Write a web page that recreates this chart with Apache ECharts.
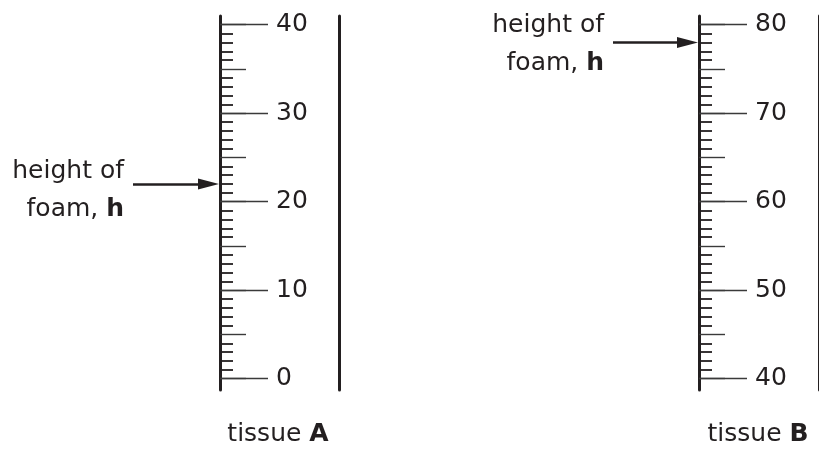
<!DOCTYPE html>
<html><head><meta charset="utf-8">
<script src="https://cdn.jsdelivr.net/npm/echarts@6/dist/echarts.min.js"></script>
<style>html,body{margin:0;padding:0;background:#fff}#c{width:819px;height:450px}</style>
</head><body><div id="c"></div><script>
// ---- data ----
const scaleRangeA = [0, 40];
const scaleRangeB = [40, 80];
const foamHeightA = 22;
const foamHeightB = 78;
const tissueNames = ['tissue ', 'tissue '];
const tissueLetters = ['A', 'B'];
const arrowLabelParts = ['height of', 'foam, ', 'h'];

// ---- styling / layout ----
const INK = '#231f20';
const TICK = '#3a3a3a';
const FONT = 'DejaVu Sans';
const FS = 25;
const tickTop = 24.7, tickH = 354, lineTop = 16, lineH = 374;
const panels = [
  { axisX: 220, rightX: 339.3, range: scaleRangeA, h: foamHeightA, arrowStart: -87, labelDy: 6, textX: 278 },
  { axisX: 699, rightX: 819, range: scaleRangeB, h: foamHeightB, arrowStart: -86, labelDy: 2, textX: 758 }
];

const grid = [], xAxis = [], yAxis = [], series = [], graphic = [];
function addGrid(left, right, top, height, zeroAt) {
  const g = grid.length;
  grid.push({ left: left, top: top, width: right - left, height: height });
  xAxis.push({ gridIndex: g, type: 'value', min: left - zeroAt, max: right - zeroAt, show: false });
  return g;
}
panels.forEach((p, i) => {
  const g5 = addGrid(0, p.rightX, tickTop, tickH, p.axisX);
  const g10 = addGrid(p.axisX, p.rightX, tickTop, tickH, p.axisX);
  const gL = addGrid(0, p.rightX, lineTop, lineH, p.axisX);
  const y5 = yAxis.length;
  yAxis.push({
    gridIndex: g5, type: 'value', position: 'left', min: p.range[0], max: p.range[1], interval: 5,
    axisLine: { show: true, onZero: true, lineStyle: { opacity: 0 } },
    axisTick: { show: true, inside: true, length: 26, lineStyle: { color: TICK, width: 1.4 } },
    minorTick: { show: true, splitNumber: 5, length: 13, lineStyle: { color: INK, width: 1.8 } },
    axisLabel: { show: false }, splitLine: { show: false }
  });
  yAxis.push({
    gridIndex: g10, type: 'value', position: 'left', min: p.range[0], max: p.range[1], interval: 10,
    axisLine: { show: true, onZero: false, lineStyle: { opacity: 0 } },
    axisTick: { show: true, inside: true, length: 48, lineStyle: { color: TICK, width: 1.4 } },
    axisLabel: { show: true, inside: true, margin: 56, fontSize: FS, fontFamily: FONT, color: INK },
    splitLine: { show: false }
  });
  yAxis.push({
    gridIndex: gL, type: 'value', position: 'left', min: 0, max: 1,
    axisLine: { show: true, onZero: true, lineStyle: { color: INK, width: 3 } },
    axisTick: { show: false }, axisLabel: { show: false }, splitLine: { show: false }
  });
  yAxis.push({
    gridIndex: gL, type: 'value', min: 0, max: 1, position: 'right',
    axisLine: { show: true, onZero: false, lineStyle: { color: INK, width: 3 } },
    axisTick: { show: false }, axisLabel: { show: false }, splitLine: { show: false }
  });
  series.push({
    type: 'scatter', xAxisIndex: g5, yAxisIndex: y5, symbolSize: 0,
    itemStyle: { opacity: 1, color: INK },
    data: [[p.arrowStart, p.h]],
    label: {
      show: true, position: 'left', distance: 9, offset: [0, p.labelDy], opacity: 1,
      formatter: '{n|' + arrowLabelParts[0] + '}\n{n|' + arrowLabelParts[1] + '}{b|' + arrowLabelParts[2] + '}',
      rich: {
        n: { fontSize: FS, fontFamily: FONT, color: INK, lineHeight: 38 },
        b: { fontSize: FS, fontFamily: FONT, color: INK, fontWeight: 'bold', lineHeight: 38 }
      }
    },
    markLine: {
      silent: true, symbol: ['none', 'triangle'], symbolSize: [11, 21],
      lineStyle: { color: INK, width: 2.5, type: 'solid', opacity: 1 },
      itemStyle: { color: INK },
      label: { show: false },
      data: [[{ coord: [p.arrowStart, p.h] }, { coord: [-11.5, p.h] }]]
    }
  });
  graphic.push({
    type: 'text', x: p.textX, y: 434,
    style: {
      text: '{n|' + tissueNames[i] + '}{b|' + tissueLetters[i] + '}',
      align: 'center', verticalAlign: 'middle',
      rich: {
        n: { fontSize: FS, fontFamily: FONT, fill: INK, color: INK },
        b: { fontSize: FS, fontFamily: FONT, fill: INK, color: INK, fontWeight: 'bold' }
      }
    }
  });
});

const chart = echarts.init(document.getElementById('c'), null, { renderer: 'canvas' });
chart.setOption({ animation: false, backgroundColor: '#fff', grid, xAxis, yAxis, series, graphic });
</script></body></html>
